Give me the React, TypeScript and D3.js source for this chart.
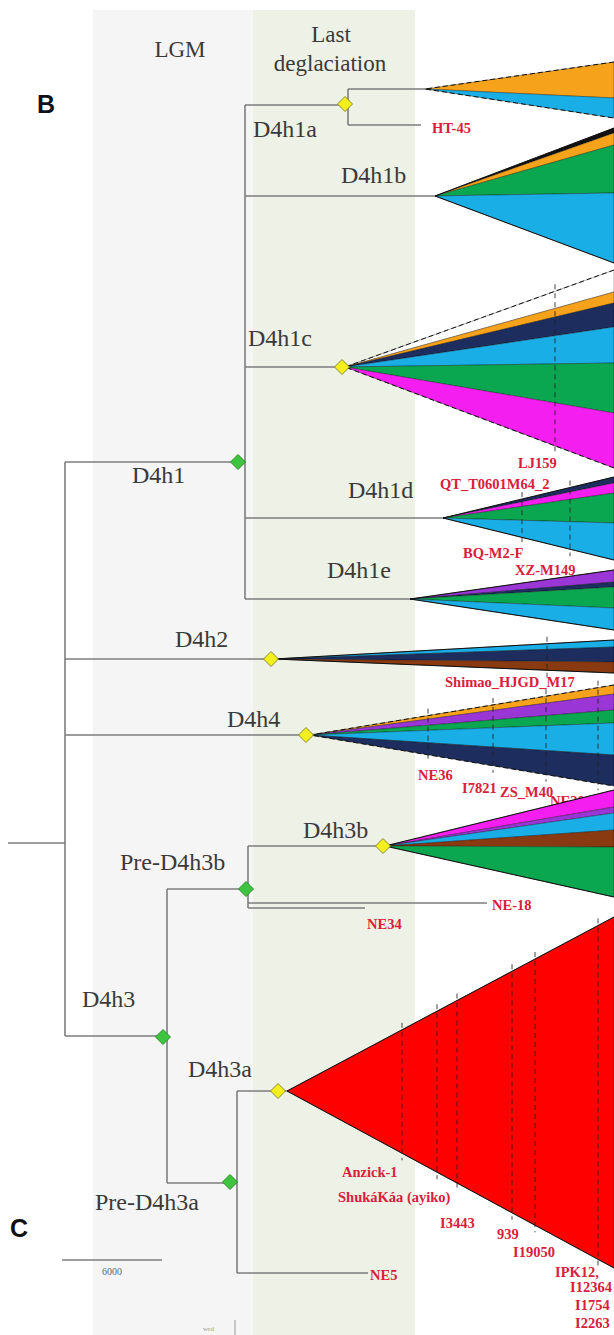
import React from "react";
import * as d3 from "d3";

// ---------- DATA ----------
// ages in thousands of years before present (ka); y = vertical layout position
const periods = [
  { name: "LGM", from: 31.26, to: 21.66, fill: "#f5f5f5" },
  { name: "Last deglaciation", from: 21.66, to: 11.94, fill: "#eef1e5" },
];
const periodLabels = [
  { text: "LGM", age: 26.04, y: 57 },
  { text: "Last", age: 16.98, y: 42 },
  { text: "deglaciation", age: 17.04, y: 71 },
];

// tree nodes (elbow layout): parent id, age, y
const nodes = [
  { id: "root", parent: null, age: 36.36, y: 843 },
  { id: "D4h", parent: "root", age: 32.94, y: 843 },
  { id: "D4h1", parent: "D4h", age: 22.14, y: 462 },
  { id: "D4h1a", parent: "D4h1", age: 15.96, y: 105 },
  { id: "D4h1a*", parent: "D4h1a", age: 11.34, y: 89 },
  { id: "HT-45", parent: "D4h1a", age: 11.58, y: 125 },
  { id: "D4h1b", parent: "D4h1", age: 10.74, y: 196 },
  { id: "D4h1c", parent: "D4h1", age: 16.14, y: 367 },
  { id: "D4h1d", parent: "D4h1", age: 10.26, y: 518 },
  { id: "D4h1e", parent: "D4h1", age: 12.24, y: 599 },
  { id: "D4h2", parent: "D4h", age: 20.4, y: 659 },
  { id: "D4h4", parent: "D4h", age: 18.24, y: 735 },
  { id: "D4h3", parent: "D4h", age: 26.82, y: 1036 },
  { id: "PreD4h3b", parent: "D4h3", age: 21.96, y: 889 },
  { id: "D4h3b", parent: "PreD4h3b", age: 13.74, y: 846 },
  { id: "NE-18", parent: "PreD4h3b", age: 7.62, y: 903 },
  { id: "NE34", parent: "PreD4h3b", age: 14.94, y: 908 },
  { id: "PreD4h3a", parent: "D4h3", age: 22.62, y: 1183 },
  { id: "D4h3a", parent: "PreD4h3a", age: 19.62, y: 1091 },
  { id: "NE5", parent: "PreD4h3a", age: 14.76, y: 1273 },
];

const yellowDiamonds = [
  { age: 16.14, y: 104 },
  { age: 16.32, y: 367 },
  { age: 20.58, y: 659 },
  { age: 18.48, y: 735 },
  { age: 13.86, y: 846 },
  { age: 20.16, y: 1091 },
];
const greenDiamonds = [
  { age: 22.56, y: 462 },
  { age: 22.08, y: 889 },
  { age: 27.06, y: 1037 },
  { age: 23.04, y: 1182 },
];

const COL: Record<string, string> = {
  orange: "#f7a21b",
  blue: "#1aaee6",
  green: "#0ba650",
  navy: "#1c2d5e",
  magenta: "#f51ef0",
  purple: "#9a35d6",
  brown: "#8a3a10",
  red: "#ff0000",
  black: "#111111",
  white: "#ffffff",
};

// collapsed clades: apex (age, y), right-edge band boundaries (y) and band colours
const clades = [
  { id: "D4h1a", age: 11.34, y: 89, edges: [62, 98, 118], colors: ["orange", "blue"], dashed: true },
  { id: "D4h1b", age: 10.74, y: 196, edges: [128, 133, 145, 193, 263], colors: ["black", "orange", "green", "blue"], dashed: false },
  { id: "D4h1c", age: 16.14, y: 367, edges: [270, 292, 303, 327, 363, 413, 468], colors: ["white", "orange", "navy", "blue", "green", "magenta"], dashed: true },
  { id: "D4h1d", age: 10.26, y: 518, edges: [477, 483, 493, 523, 560], colors: ["navy", "magenta", "green", "blue"], dashed: false },
  { id: "D4h1e", age: 12.24, y: 599, edges: [570, 582, 587, 608, 630], colors: ["purple", "navy", "green", "blue"], dashed: false },
  { id: "D4h2", age: 20.4, y: 659, edges: [640, 647, 662, 673], colors: ["blue", "navy", "brown"], dashed: false },
  { id: "D4h4", age: 18.24, y: 735, edges: [685, 694, 710, 723, 755, 786], colors: ["orange", "purple", "green", "blue", "navy"], dashed: true },
  { id: "D4h3b", age: 13.74, y: 846, edges: [790, 807, 813, 830, 847, 897], colors: ["magenta", "purple", "blue", "brown", "green"], dashed: false },
  { id: "D4h3a", age: 19.62, y: 1091, edges: [917, 1268], colors: ["red"], dashed: false },
];
const cladeRightAge = 0;

// dashed sample lines within clades
const sampleLines = [
  { clade: "D4h1c", age: 3.54 },
  { clade: "D4h1d", age: 5.52 },
  { clade: "D4h1d", age: 2.64 },
  { clade: "D4h2", age: 4.02 },
  { clade: "D4h4", age: 11.16 },
  { clade: "D4h4", age: 7.26 },
  { clade: "D4h4", age: 4.08 },
  { clade: "D4h4", age: 0.96 },
  { clade: "D4h3a", age: 12.72 },
  { clade: "D4h3a", age: 10.62 },
  { clade: "D4h3a", age: 9.42 },
  { clade: "D4h3a", age: 6.12 },
  { clade: "D4h3a", age: 4.74 },
  { clade: "D4h3a", age: 0.96 },
];

const cladeLabels = [
  { text: "D4h1a", age: 21.66, y: 137 },
  { text: "D4h1b", age: 16.38, y: 183 },
  { text: "D4h1c", age: 21.96, y: 346 },
  { text: "D4h1d", age: 15.96, y: 498 },
  { text: "D4h1e", age: 17.22, y: 578 },
  { text: "D4h1", age: 28.92, y: 483 },
  { text: "D4h2", age: 26.34, y: 647 },
  { text: "D4h4", age: 23.22, y: 727 },
  { text: "D4h3b", age: 18.66, y: 838 },
  { text: "Pre-D4h3b", age: 29.64, y: 870 },
  { text: "D4h3", age: 31.92, y: 1007 },
  { text: "D4h3a", age: 25.56, y: 1077 },
  { text: "Pre-D4h3a", age: 31.14, y: 1210 },
];

const sampleLabels = [
  { text: "HT-45", age: 10.92, y: 128, under: false },
  { text: "LJ159", age: 5.76, y: 463, under: false },
  { text: "QT_T0601M64_2", age: 10.44, y: 484, under: false },
  { text: "BQ-M2-F", age: 9.06, y: 553, under: false },
  { text: "XZ-M149", age: 5.94, y: 570, under: false },
  { text: "Shimao_HJGD_M17", age: 10.14, y: 682, under: false },
  { text: "NE36", age: 11.76, y: 775, under: false },
  { text: "I7821", age: 9.12, y: 788, under: false },
  { text: "ZS_M40", age: 6.84, y: 792, under: false },
  { text: "NE20", age: 3.84, y: 801, under: true },
  { text: "NE-18", age: 7.32, y: 905, under: false },
  { text: "NE34", age: 14.82, y: 924, under: false },
  { text: "Anzick-1", age: 16.32, y: 1172, under: false },
  { text: "ShukáKáa (ayiko)", age: 16.56, y: 1197, under: false },
  { text: "I3443", age: 10.44, y: 1223, under: false },
  { text: "939", age: 7.02, y: 1234, under: false },
  { text: "I19050", age: 6.06, y: 1252, under: false },
  { text: "IPK12,", age: 3.54, y: 1272, under: false },
  { text: "I12364", age: 2.64, y: 1287, under: false },
  { text: "I1754", age: 2.34, y: 1305, under: false },
  { text: "I2263", age: 2.34, y: 1323, under: false },
  { text: "NE5", age: 14.64, y: 1275, under: false },
];

const scaleBar = { fromAge: 33.12, length: 6, label: "6000", y: 1260 };
const panelLetters = [
  { text: "B", x: 37, y: 113 },
  { text: "C", x: 10, y: 1237 },
];

// ---------- CHART ----------
const W = 614;
const H = 1335;

export default function App() {
  const x = d3.scaleLinear().domain([36.84, 0]).range([0, W]);
  const y = d3.scaleLinear().domain([0, H]).range([0, H]);
  const byId = new Map(nodes.map((n) => [n.id, n]));
  const line = d3.line();

  const treeLines: string[] = [];
  nodes.forEach((n) => {
    if (n.parent) {
      const p = byId.get(n.parent)!;
      treeLines.push(line([[x(p.age), y(n.y)], [x(n.age), y(n.y)]])!);
    }
    const kids = nodes.filter((k) => k.parent === n.id);
    if (kids.length > 1) {
      const ys = kids.map((k) => k.y).concat([n.y]);
      treeLines.push(line([[x(n.age), y(d3.min(ys)!)], [x(n.age), y(d3.max(ys)!)]])!);
    }
  });

  const cladeById = new Map(clades.map((c) => [c.id, c]));
  const rx = x(cladeRightAge);

  const diamond = (cx: number, cy: number, r: number) =>
    line([[cx - r, cy], [cx, cy - r], [cx + r, cy], [cx, cy + r]])! + "Z";

  const edgeAt = (c: typeof clades[0], px: number) => {
    const ax = x(c.age);
    const t = (px - ax) / (rx - ax);
    const top = c.y + (c.edges[0] - c.y) * t;
    const bot = c.y + (c.edges[c.edges.length - 1] - c.y) * t;
    return [top, bot];
  };

  const serif = "'Liberation Serif', 'DejaVu Serif', serif";

  const renderSample = (s: typeof sampleLabels[0], i: number) => (
    <text
      key={"s" + i}
      x={x(s.age)}
      y={y(s.y)}
      dominantBaseline="central"
      fontFamily={serif}
      fontWeight="bold"
      fontSize={14.5}
      fill="#d8203c"
    >
      {s.text}
    </text>
  );

  return (
    <svg
      width={W}
      height={H}
      style={{ position: "absolute", left: 0, top: 0, background: "#fff" }}
    >
      {periods.map((p) => (
        <rect key={p.name} x={x(p.from)} y={y(10)} width={x(p.to) - x(p.from)} height={H - y(10)} fill={p.fill} />
      ))}
      {periodLabels.map((l) => (
        <text key={l.text} x={x(l.age)} y={y(l.y)} textAnchor="middle" fontFamily={serif} fontSize={23} fill="#3a3a3a">
          {l.text}
        </text>
      ))}
      {panelLetters.map((l) => (
        <text key={l.text} x={l.x} y={l.y} fontFamily="'Liberation Sans', Arial, sans-serif" fontWeight="bold" fontSize={25} fill="#111">
          {l.text}
        </text>
      ))}

      {treeLines.map((d, i) => (
        <path key={"t" + i} d={d} stroke="#7d7d7d" strokeWidth={1.6} fill="none" />
      ))}

      {sampleLabels.filter((s) => s.under).map(renderSample)}

      {clades.map((c) => {
        const ax = x(c.age);
        const ay = y(c.y);
        return (
          <g key={c.id}>
            {c.colors.map((col, i) => (
              <path
                key={i}
                d={line([[ax, ay], [rx, y(c.edges[i])], [rx, y(c.edges[i + 1])]])! + "Z"}
                fill={COL[col]}
                stroke="rgba(0,0,0,0.55)"
                strokeWidth={0.6}
              />
            ))}
            <path
              d={line([[rx, y(c.edges[0])], [ax, ay], [rx, y(c.edges[c.edges.length - 1])]])!}
              fill="none"
              stroke="#111"
              strokeWidth={1}
              strokeDasharray={c.dashed ? "5,3" : undefined}
            />
          </g>
        );
      })}

      {sampleLines.map((s, i) => {
        const c = cladeById.get(s.clade)!;
        const px = x(s.age);
        const [top, bot] = edgeAt(c, px);
        return (
          <path
            key={"d" + i}
            d={line([[px, y(top) - 7], [px, y(bot) + 7]])!}
            stroke="#222"
            strokeWidth={1}
            strokeDasharray="5,4"
            opacity={0.85}
          />
        );
      })}

      {yellowDiamonds.map((d, i) => (
        <path key={"y" + i} d={diamond(x(d.age), y(d.y), 7.5)} fill="#f3ef1c" stroke="#8a8a3a" strokeWidth={1} />
      ))}
      {greenDiamonds.map((d, i) => (
        <path key={"g" + i} d={diamond(x(d.age), y(d.y), 7.5)} fill="#3ec43e" stroke="#2c8f2c" strokeWidth={1} />
      ))}

      {cladeLabels.map((l) => (
        <text key={l.text} x={x(l.age)} y={y(l.y)} fontFamily={serif} fontSize={24} fill="#3a3a3a">
          {l.text}
        </text>
      ))}

      {sampleLabels.filter((s) => !s.under).map(renderSample)}

      <path
        d={line([[x(scaleBar.fromAge), y(scaleBar.y)], [x(scaleBar.fromAge - scaleBar.length), y(scaleBar.y)]])!}
        stroke="#7d7d7d"
        strokeWidth={1.4}
      />
      <text
        x={(x(scaleBar.fromAge) + x(scaleBar.fromAge - scaleBar.length)) / 2}
        y={y(scaleBar.y + 15)}
        textAnchor="middle"
        fontFamily={serif}
        fontSize={10}
        fill="#666"
      >
        {scaleBar.label}
      </text>
      <text x={203} y={1331} fontFamily={serif} fontSize={7} fill="#999">wrd</text>
      <path d="M235,1320V1335" stroke="#999" strokeWidth={1} />
    </svg>
  );
}
